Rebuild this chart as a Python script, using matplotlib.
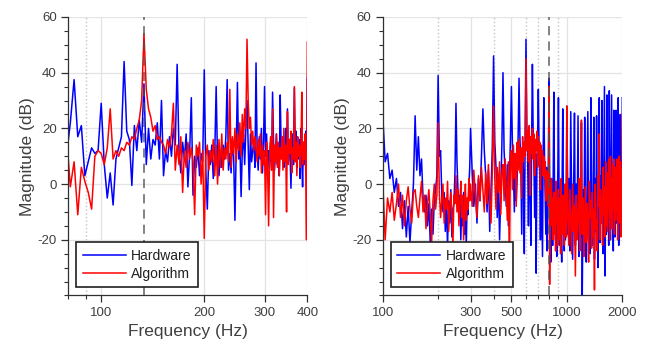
import numpy as np
import matplotlib
matplotlib.use("Agg")
import matplotlib.pyplot as plt
from matplotlib.ticker import FixedLocator, NullFormatter

plt.rcParams['font.family'] = ['Liberation Sans', 'DejaVu Sans']
plt.rcParams['axes.unicode_minus'] = False

# ---------------- data ----------------
# Left panel: frequency grid (Hz), 50/24 Hz spacing from ~79 to 400 Hz
f_left = np.arange(38, 193) * 50 / 24

hw_left = [
    10, 22,
    37.5, 17, 21, 3, 8, 13, 11, 12,
    29, 7, -5, 4, -7.5, 9, 13, 17,
    44, 19, 16, -0.5, 21, 12, 23, 15,
    36, 7, 20, 9, 16, 14, 22, 9,
    30, 3, 12, 8, 17, 10, 20, 14,
    43, 12, 4, 15, 9, 18, -1, 11,
    31, -4, 10, 6, 13, 3, 11, 8,
    41, 5, -9, 12, 7, 14, 2, 10,
    35, 8, 3, 12, 6, 14, 9, 17,
    37.5, 5, 11, 4, 16, 10, -13, 13,
    36.5, 9, 15, -4.5, 12, 18, 7, 20,
    30, 14, -2, 18, 8, 12, 16, 6,
    43.5, 12, 5, 17, 9, 20, 4, 14,
    35, 10, 18, 3, 12, 8, 15, 6,
    33, 15, 5, 11, 18, 7, 13, 3,
    32, 14, 9, 17, 6, 12, 20, 10,
    27, 8, 16, 11, -1.5, 13, 18, 7,
    34.5, 12, 19, 6, 14, 9, 16, 2,
    20, 11, -1, 15, 7, 13, 19, 3,
    38,
]

alg_left = [
    18, -1,
    8, -11, 6, 1, -3, -9, 10, 12,
    11, 7, 13, 27, 9, 12, 10, 13,
    12, 15, 14, 17, 16, 20, 23, 30,
    54, 34, 27, 24, 19, 21, 16, 17,
    15, 14, 11, 16, 13, 18, 29, 5,
    14, 7, 17, -3, 12, 6, 15, 9,
    13, 8, -11, 14, 10, 15, 0, 12,
    -19.5, 10, 14, 5, 12, 8, 16, 3,
    14, 0, 16, 6, 18, 5, 13, 9,
    15, 8, 34, 6, 17, 11, 20, 8,
    18, 12, 22, 10, 25, 15, 27, 20,
    52, 30, 20, 24, 14, 19, 12, 17,
    13, 8, 16, 10, 18, 4, 14, 7,
    12, -11, 15, 6, -15, 10, 17, 5,
    27, -12, 14, 8, 18, 6, 15, 3,
    13, 9, 17, 5, 20, 8, 14, -10,
    26, 7, 16, 11, 19, 4, 13, 9,
    35, 8, 15, 3, 17, 10, 14, 6,
    12, 33, 7, 15, 9, 18, 4, -20,
    51,
]

# Right panel: frequency grid (Hz), 100-300 / 300-1000 / 1000-2000 Hz
f_right = np.concatenate([100 + 3.125 * np.arange(64),
                          300 + 6.25 * np.arange(112),
                          1000 + 12.5 * np.arange(81)])

hw_right = [
    25, 8, 11, 2, 5, -3, 2, -8, -3, -16, -6, -19, -8, -21, -10, 0,
    24.5, 5, 17, 3, 9, -5, -10, -4, -15, -7, -21, -9, -18, -6, -2, 3,
    39, 10, 12, -4, -10, -3, -17, -8, -22, -6, -14, -2, -19, -9, -7, 4,
    29, 8, -2, -12, -4, -20, -7, -15, -3, -18, -9, -22, -6, -11, -1, 6,
    20, 4, -8, 0, -14, 2, -6, 10,
    27, 12, 3, -10, 5, -17, -2, 13,
    46, 15, 6, -12, 2, -20, -4, 14,
    40, 12, 4, -8, 7, -15, 0, 16,
    35, 14, 5, -10, 9, -6, 3, 17,
    38, 16, 8, -18, 12, 4, -25, 18,
    52, 20, 10, -15, 14, 2, -22, 15,
    43, 18, 7, -12, 11, -32, 5, 16,
    34, 14, 3, -20, 10, -8, -26, 12,
    31, 10, -5, -18, 6, -24, -12, 8,
    38, 5, -10, -28, 2, -15, -22, 4,
    33, 3, -12, -20, -2, -26, -8, 6,
    31, 2, -14, -22, -5, -18, -28, 5,
    27, 0, -16, -24, -6, -20, -10, 4,
    28, -18, 2, -24,
    26, -8, -27, -3,
    25.5, -22, 0, -15,
    24.5, -26, -6, -19,
    22, -40, -2, -23,
    24, -14, -28, 1,
    26, -20, -9, -25,
    31, -5, -22, -12,
    24, -27, 2, -17,
    24.5, -10, -30, -4,
    31, -21, 3, -14,
    30, -8, -25, 5,
    35, -33, -2, -18,
    32, -12, 4, -22,
    33.5, -6, -20, 6,
    32, -16, 2, -24,
    26.5, -3, -19, 5,
    26.5, -14, 7, -10,
    31, -22, 3, -8,
    25, -12, 8, -18,
    31,
]

alg_right = [
    2, -20, -5, -10, -3, -13, -7, 0, -12, -4, -15, -6, -1, -9, -14, -3,
    -2, -8, -12, -5, 1, -10, -4, -16, -7, -2, -11, -21, -6, 0, -9, -4,
    22, -3, -12, -6, 0, -14, -5, -9, 1, -17, -8, -3, -11, -22, -4, -7,
    3, -10, -2, -15, -6, 1, -12, -4, -20, -8, 0, -13, -5, -9, 2, -6,
    0, -8, 5, -4, -12, 3, -6, 6,
    -2, -10, 4, -7, 7, -5, -14, 5,
    28, 2, -9, 6, -3, 8, -11, 4,
    7, -6, 9, -2, -13, 8, -33, 10,
    12, -2, 14, 2, 11, -8, 15, 5,
    16, 4, 13, -5, 17, 8, 15, 10,
    45, 12, 19, 8, 21, -4, 17, 11,
    20, 9, 18, 3, 16, 12, 19, 6,
    17, 7, 15, -2, 14, 10, 12, 3,
    10, 2, 8, -6, 5, -3, 4, -8,
    35, -36, 0, -12, 2, -15, -5, -20,
    -3, -18, -8, -24, 1, -14, -6, -22,
    -2, -20, -10, -5, -25, 2, -12, -18,
    -4, -16, -9, -22, 0, -13, -7, -19,
    28, -10, -22, -2,
    -14, -25, 0, -17,
    -8, -33, -4, -20,
    -12, 2, -24, -9,
    23, -18, -5, -26,
    -11, -1, -21, -7,
    -15, -28, 1, -12,
    -6, -23, -3, -19,
    -9, -38, 0, -16,
    -13, -24, 3, -8,
    18, -20, -2, -14,
    -5, -22, 6, -11,
    -1, -19, 8, -15,
    4, -17, -3, 9,
    -6, -20, 10, -12,
    2, -16, 7, -9,
    9, -18, 4, -13,
    6, -10, 9, -20,
    3, -14, 10, -7,
    8, -19, 5, -12,
    25,
]

series_labels = ["Hardware", "Algorithm"]

left_xlim = (80, 400)
left_xticks = [100, 200, 300, 400]
left_minor = [80, 90]
left_dotted = [90]
left_dashed = [133.33]

right_xlim = (100, 2000)
right_xticks = [100, 300, 500, 1000, 2000]
right_minor = [200, 400, 600, 700, 800, 900]
right_dotted = [200, 400, 600, 700, 900]
right_dashed = [800]

yticks = [-20, 0, 20, 40, 60]
ylim = (-40, 60)

assert len(hw_left) == len(f_left) == len(alg_left)
assert len(hw_right) == len(f_right) == len(alg_right)

# ---------------- plot ----------------
fig = plt.figure(figsize=(6.46, 3.46), dpi=100)
ax1 = fig.add_axes([0.1053, 0.146, 0.3704, 0.805])
ax2 = fig.add_axes([0.5924, 0.146, 0.3709, 0.805])

txt = '#404040'
spine_c = '#303030'

panels = [
    (ax1, f_left, hw_left, alg_left, left_xlim, left_xticks, left_minor, left_dotted, left_dashed),
    (ax2, f_right, hw_right, alg_right, right_xlim, right_xticks, right_minor, right_dotted, right_dashed),
]

for ax, f, hw, alg, xl, xt, xm, dots, dashes in panels:
    ax.set_xscale('log')
    for v in dots:
        ax.axvline(v, color='#c4c4c4', linestyle=':', linewidth=1.0, zorder=1)
    ax.plot(f, hw, color='#0000ff', linewidth=1.1, label=series_labels[0], zorder=2)
    ax.plot(f, alg, color='#ff0000', linewidth=1.1, label=series_labels[1], zorder=2.1)
    for v in dashes:
        ax.axvline(v, color='#505050', linestyle=(0, (6, 4)), linewidth=1.1, zorder=3, alpha=0.9)
    ax.set_xlim(*xl)
    ax.set_ylim(*ylim)
    ax.xaxis.set_major_locator(FixedLocator(xt))
    ax.set_xticklabels([str(t) for t in xt])
    ax.xaxis.set_minor_locator(FixedLocator(xm))
    ax.xaxis.set_minor_formatter(NullFormatter())
    ax.set_yticks(yticks)
    ax.set_yticklabels([str(t) for t in yticks])
    ax.yaxis.set_minor_locator(FixedLocator(np.arange(-40, 61, 5)))
    ax.grid(True, which='major', color='#e3e3e3', linewidth=0.9)
    ax.set_axisbelow(True)
    for s in ['top', 'right']:
        ax.spines[s].set_visible(False)
    for s in ['left', 'bottom']:
        ax.spines[s].set_color(spine_c)
        ax.spines[s].set_linewidth(0.9)
    ax.tick_params(which='major', direction='out', length=5, width=0.9,
                   color=spine_c, labelcolor=txt, labelsize=9.5, pad=3)
    ax.tick_params(which='minor', direction='out', length=3, width=0.8, color=spine_c)
    ax.set_xlabel('Frequency (Hz)', fontsize=12.5, color=txt, labelpad=4)
    ax.set_ylabel('Magnitude (dB)', fontsize=12.5, color=txt, labelpad=2)
    leg = ax.legend(loc='lower left', bbox_to_anchor=(0.035, 0.03), borderaxespad=0,
                    fontsize=10, fancybox=False, framealpha=1, edgecolor='#202020',
                    handlelength=3.1, handletextpad=0.4, labelspacing=0.3, borderpad=0.45)
    leg.get_frame().set_linewidth(1.2)
    for t in leg.get_texts():
        t.set_color('#202020')

fig.savefig('out.png', dpi=100)
